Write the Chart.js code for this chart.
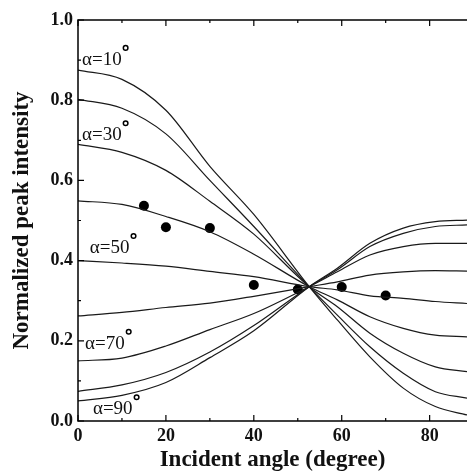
<!DOCTYPE html>
<html>
<head>
<meta charset="utf-8">
<script src="https://cdn.jsdelivr.net/npm/chart.js"></script>
<style>
html, body { margin: 0; padding: 0; background: #fff; }
#wrap { width: 472px; height: 476px; }
</style>
</head>
<body>
<div id="wrap"><canvas id="c"></canvas></div>
<script>
const angles = [0, 10, 20, 30, 40, 52.6, 59, 66.4, 74, 81.3, 88.5];

const alpha10 = [0.875, 0.852, 0.775, 0.635, 0.515, 0.335, 0.252, 0.160, 0.082, 0.036, 0.015];
const alpha20 = [0.802, 0.780, 0.716, 0.600, 0.485, 0.335, 0.264, 0.185, 0.119, 0.073, 0.057];
const alpha30 = [0.690, 0.670, 0.625, 0.548, 0.466, 0.335, 0.285, 0.219, 0.169, 0.135, 0.123];
const alpha40 = [0.549, 0.540, 0.510, 0.472, 0.416, 0.335, 0.302, 0.260, 0.231, 0.214, 0.210];
const alpha50 = [0.400, 0.394, 0.386, 0.373, 0.360, 0.335, 0.327, 0.312, 0.306, 0.298, 0.293];
const alpha60 = [0.262, 0.271, 0.283, 0.294, 0.311, 0.335, 0.347, 0.364, 0.372, 0.375, 0.374];
const alpha70 = [0.150, 0.157, 0.187, 0.228, 0.268, 0.335, 0.372, 0.414, 0.435, 0.443, 0.443];
const alpha80 = [0.074, 0.090, 0.121, 0.172, 0.238, 0.335, 0.377, 0.435, 0.468, 0.485, 0.489];
const alpha90 = [0.050, 0.064, 0.096, 0.158, 0.225, 0.335, 0.381, 0.443, 0.481, 0.497, 0.501];

// measured points
const expAngles = [15, 20, 30, 40, 50, 60, 70];
const expIntensity = [0.537, 0.483, 0.481, 0.339, 0.328, 0.334, 0.313];

const xMajor = [0, 20, 40, 60, 80];
const xMinor = [10, 30, 50, 70];
const yMajor = [0, 0.2, 0.4, 0.6, 0.8, 1.0];
const yMinor = [0.1, 0.3, 0.5, 0.7, 0.9];

// curve labels: text and anchor in data coords
const curveLabels = ['α=10', 'α=30', 'α=50', 'α=70', 'α=90'];
const labelX = [0.9, 0.9, 2.7, 1.6, 3.4];
const labelY = [0.888, 0.700, 0.419, 0.180, 0.017];

const serif = '"Liberation Serif", "Times New Roman", serif';

const curves = [alpha10, alpha20, alpha30, alpha40, alpha50, alpha60, alpha70, alpha80, alpha90];
const datasets = curves.map((arr, i) => ({
    label: 'α=' + (10 * (i + 1)),
    data: arr.map((v, j) => ({ x: angles[j], y: v })),
    showLine: true,
    borderColor: '#1a1a1a',
    borderWidth: 1.2,
    pointRadius: 0,
    cubicInterpolationMode: 'monotone',
    fill: false
}));
datasets.push({
    label: 'experiment',
    data: expAngles.map((a, j) => ({ x: a, y: expIntensity[j] })),
    showLine: false,
    pointRadius: 5,
    pointBackgroundColor: '#000',
    pointBorderColor: '#000',
    borderWidth: 0
});

const framePlugin = {
    id: 'frame',
    afterDraw(chart) {
        const ctx = chart.ctx;
        const xs = chart.scales.x, ys = chart.scales.y;
        const a = chart.chartArea;
        ctx.save();
        ctx.strokeStyle = '#000';
        ctx.lineWidth = 1.5;
        ctx.beginPath();
        ctx.moveTo(a.right, a.top);
        ctx.lineTo(a.left, a.top);
        ctx.lineTo(a.left, a.bottom);
        ctx.lineTo(a.right, a.bottom);
        ctx.stroke();

        ctx.lineWidth = 1.2;
        ctx.beginPath();
        xMajor.forEach(v => {
            const px = xs.getPixelForValue(v);
            ctx.moveTo(px, a.bottom); ctx.lineTo(px, a.bottom - 6);
            ctx.moveTo(px, a.top); ctx.lineTo(px, a.top + 6);
        });
        xMinor.forEach(v => {
            const px = xs.getPixelForValue(v);
            ctx.moveTo(px, a.bottom); ctx.lineTo(px, a.bottom - 3);
            ctx.moveTo(px, a.top); ctx.lineTo(px, a.top + 3);
        });
        yMajor.forEach(v => {
            const py = ys.getPixelForValue(v);
            ctx.moveTo(a.left, py); ctx.lineTo(a.left + 6, py);
        });
        yMinor.forEach(v => {
            const py = ys.getPixelForValue(v);
            ctx.moveTo(a.left, py); ctx.lineTo(a.left + 3, py);
        });
        ctx.stroke();

        // curve labels with degree ring
        ctx.fillStyle = '#111';
        ctx.font = '19px ' + serif;
        ctx.textAlign = 'left';
        ctx.textBaseline = 'alphabetic';
        curveLabels.forEach((t, i) => {
            const px = xs.getPixelForValue(labelX[i]);
            const py = ys.getPixelForValue(labelY[i]);
            ctx.fillText(t, px, py);
            const w = ctx.measureText(t).width;
            ctx.beginPath();
            ctx.lineWidth = 1.5;
            ctx.arc(px + w + 4, py - 17, 2.3, 0, Math.PI * 2);
            ctx.stroke();
        });
        ctx.restore();
    }
};

new Chart(document.getElementById('c'), {
    type: 'scatter',
    data: { datasets },
    options: {
        responsive: true,
        maintainAspectRatio: false,
        animation: false,
        layout: { padding: { top: 20, right: 0, left: 0, bottom: 0 } },
        plugins: {
            legend: { display: false },
            tooltip: { enabled: false }
        },
        scales: {
            x: {
                type: 'linear',
                min: 0,
                max: 88.5,
                grid: { display: false, drawTicks: false },
                border: { display: false },
                ticks: {
                    stepSize: 20,
                    includeBounds: false,
                    padding: 5,
                    color: '#111',
                    font: { family: serif, size: 18, weight: 'bold' }
                },
                title: {
                    display: true,
                    text: 'Incident angle (degree)',
                    color: '#111',
                    font: { family: serif, size: 23, weight: 'bold' },
                    padding: { top: 0, bottom: 2 }
                },
                afterFit(scale) { scale.height = 55; }
            },
            y: {
                type: 'linear',
                min: 0,
                max: 1,
                grid: { display: false, drawTicks: false },
                border: { display: false },
                ticks: {
                    stepSize: 0.2,
                    padding: 5,
                    color: '#111',
                    font: { family: serif, size: 18, weight: 'bold' },
                    callback: v => v.toFixed(1)
                },
                title: {
                    display: true,
                    text: 'Normalized peak intensity',
                    color: '#111',
                    font: { family: serif, size: 23, weight: 'bold' },
                    padding: { top: 8, bottom: 4 }
                },
                afterFit(scale) { scale.width = 78; }
            }
        }
    },
    plugins: [framePlugin]
});
</script>
</body>
</html>
